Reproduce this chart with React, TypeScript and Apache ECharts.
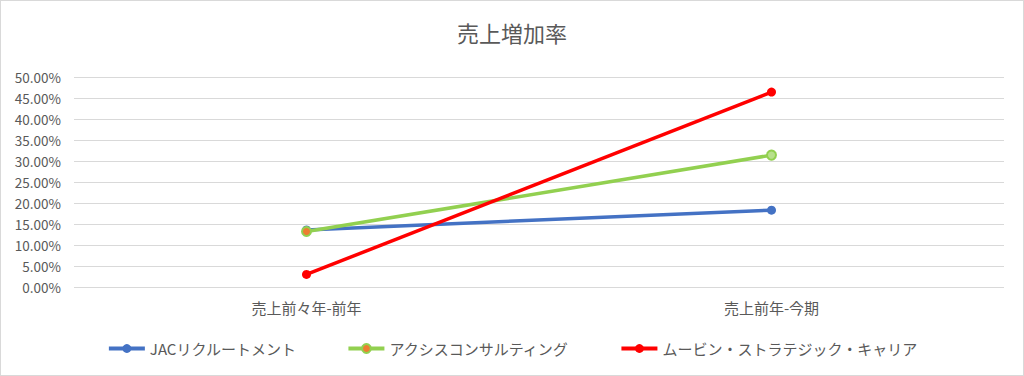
import React, { useEffect, useRef } from "react";
import * as echarts from "echarts";

const title = "売上増加率";
const categories = ["売上前々年-前年", "売上前年-今期"];
const jac = [0.136, 0.183];
const axis = [0.132, 0.314];
const movin = [0.03, 0.464];
const seriesNames = ["JACリクルートメント", "アクシスコンサルティング", "ムービン・ストラテジック・キャリア"];

const FONT = "'Noto Sans CJK JP', 'Noto Sans', sans-serif";

export default function App() {
  const ref = useRef<HTMLDivElement>(null);
  useEffect(() => {
    if (!ref.current) return;
    const chart = echarts.init(ref.current, undefined, { renderer: "svg" });
    chart.setOption({
      animation: false,
      backgroundColor: "#ffffff",
      title: {
        text: title,
        left: "center",
        top: 15,
        textStyle: { fontFamily: FONT, fontSize: 22, fontWeight: "normal", color: "#595959" },
      },
      legend: {
        bottom: 14,
        left: "center",
        itemGap: 50,
        itemWidth: 36,
        itemHeight: 11,
        lineStyle: { width: 4 },
        textStyle: { fontFamily: FONT, fontSize: 15, color: "#595959" },
        data: seriesNames,
      },
      grid: { left: 73, right: 19, top: 76, bottom: 88 },
      xAxis: {
        type: "category",
        data: categories,
        boundaryGap: true,
        axisLine: { show: false },
        axisTick: { show: false },
        axisLabel: { fontFamily: FONT, fontSize: 15, color: "#595959", margin: 13 },
      },
      yAxis: {
        type: "value",
        min: 0,
        max: 0.5,
        interval: 0.05,
        axisLine: { show: false },
        axisTick: { show: false },
        splitLine: { lineStyle: { color: "#d9d9d9", width: 1 } },
        axisLabel: {
          fontFamily: FONT,
          fontSize: 13.5,
          color: "#595959",
          margin: 13,
          formatter: (v: number) => (v * 100).toFixed(2) + "%",
        },
      },
      series: [
        {
          name: seriesNames[0],
          type: "line",
          data: jac,
          symbol: "circle",
          symbolSize: 9,
          lineStyle: { color: "#4472C4", width: 3.5 },
          itemStyle: { color: "#4472C4" },
        },
        {
          name: seriesNames[1],
          type: "line",
          data: [
            { value: axis[0] },
            { value: axis[1], itemStyle: { color: "#B8E08C", borderColor: "#92D050", borderWidth: 2 } },
          ],
          symbol: "circle",
          symbolSize: 9,
          lineStyle: { color: "#92D050", width: 3.5 },
          itemStyle: { color: "#ED7D31", borderColor: "#92D050", borderWidth: 2 },
        },
        {
          name: seriesNames[2],
          type: "line",
          data: movin,
          symbol: "circle",
          symbolSize: 9,
          lineStyle: { color: "#FF0000", width: 3.5 },
          itemStyle: { color: "#FF0000" },
        },
      ],
    });
    return () => chart.dispose();
  }, []);
  return (
    <div
      style={{
        position: "fixed",
        left: 0,
        top: 0,
        width: 1024,
        height: 376,
        boxSizing: "border-box",
        border: "1px solid #d9d9d9",
        background: "#fff",
      }}
    >
      <div ref={ref} style={{ width: 1022, height: 374 }} />
    </div>
  );
}
